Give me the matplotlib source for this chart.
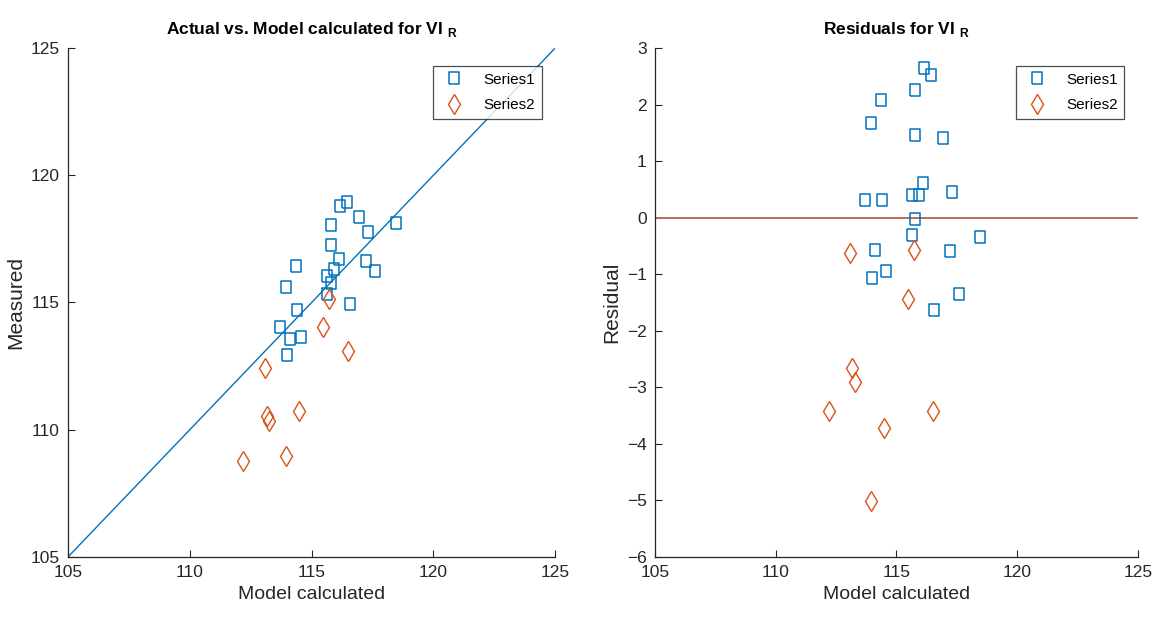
#!/usr/bin/env python3
"""Actual vs. model calculated VI_R, with residual panel."""
import matplotlib
matplotlib.use("Agg")
import matplotlib.pyplot as plt
import numpy as np

plt.rcParams["font.family"] = ["Liberation Sans Narrow", "Liberation Sans", "DejaVu Sans"]
plt.rcParams["mathtext.fontset"] = "custom"
plt.rcParams["mathtext.bf"] = "Liberation Sans:bold"
plt.rcParams["mathtext.rm"] = "Liberation Sans"

# Series1: model calculated vs measured
s1_model = [116.15, 116.44, 115.78, 114.35, 113.93, 115.78, 116.94, 116.11, 117.31, 113.71, 114.40,
            115.64, 115.93, 115.78, 115.65, 118.47, 114.12, 117.22, 114.58, 113.99, 117.59, 116.57]
s1_meas = [118.80, 118.96, 118.04, 116.43, 115.61, 117.25, 118.34, 116.72, 117.76, 114.03, 114.72,
           116.04, 116.33, 115.76, 115.34, 118.13, 113.55, 116.63, 113.64, 112.92, 116.24, 114.93]
# Series2
s2_model = [113.07, 115.71, 115.48, 113.17, 113.27, 112.20, 116.50, 114.47, 113.96]
s2_meas = [112.44, 115.13, 114.04, 110.52, 110.36, 108.78, 113.08, 110.75, 108.95]

x_lim = [105, 125]
x_ticks = [105, 110, 115, 120, 125]
res_ticks = [-6, -5, -4, -3, -2, -1, 0, 1, 2, 3]

BLUE = "#0072BD"
ORANGE = "#D95319"
ZERO = "#B0705F"
AX = "#262626"

SQ = [(-0.4, -0.5), (0.4, -0.5), (0.4, 0.5), (-0.4, 0.5), (-0.4, -0.5)]


def style(ax):
    for side in ("top", "right"):
        ax.spines[side].set_visible(False)
    for side in ("left", "bottom"):
        ax.spines[side].set_color(AX)
        ax.spines[side].set_linewidth(0.9)
    ax.tick_params(direction="in", length=5, width=0.8, colors=AX, labelsize=12.5, pad=6)


def scatter(ax, x1, y1, x2, y2):
    ax.plot(x1, y1, linestyle="none", marker=SQ, markersize=9, markerfacecolor="none",
            markeredgecolor=BLUE, markeredgewidth=1.1, label="Series1")
    ax.plot(x2, y2, linestyle="none", marker="d", markersize=10, markerfacecolor="none",
            markeredgecolor=ORANGE, markeredgewidth=1.0, label="Series2")
    leg = ax.legend(loc="upper right", bbox_to_anchor=(0.972, 0.965), fontsize=11, frameon=True,
                    fancybox=False, edgecolor="#222222", borderpad=0.45, handletextpad=1.0,
                    borderaxespad=0.0, labelspacing=0.75, handlelength=1.8)
    leg.get_frame().set_linewidth(0.9)


fig = plt.figure(figsize=(11.52, 6.19), dpi=100)
ax1 = fig.add_axes([0.059, 0.1002, 0.423, 0.8223])
ax2 = fig.add_axes([0.5686, 0.1002, 0.4192, 0.8223])

# left: actual vs model
ax1.plot(x_lim, x_lim, color=BLUE, linewidth=1.0)
scatter(ax1, s1_model, s1_meas, s2_model, s2_meas)
ax1.set_xlim(x_lim)
ax1.set_ylim(x_lim)
ax1.set_xticks(x_ticks)
ax1.set_yticks(x_ticks)
ax1.set_xlabel("Model calculated", fontsize=14, color=AX, labelpad=4)
ax1.set_ylabel("Measured", fontsize=15, color=AX, labelpad=4)
ax1.set_title(r"Actual vs. Model calculated for VI $_{\mathbf{R}}$", fontsize=12.5,
              fontweight="bold", pad=10)
style(ax1)

# right: residuals
r1 = np.array(s1_meas) - np.array(s1_model)
r2 = np.array(s2_meas) - np.array(s2_model)
ax2.plot(x_lim, [0, 0], color=ZERO, linewidth=1.4)
scatter(ax2, s1_model, r1, s2_model, r2)
ax2.set_xlim(x_lim)
ax2.set_ylim(-6, 3)
ax2.set_xticks(x_ticks)
ax2.set_yticks(res_ticks)
ax2.set_xlabel("Model calculated", fontsize=14, color=AX, labelpad=4)
ax2.set_ylabel("Residual", fontsize=15, color=AX, labelpad=4)
ax2.set_title(r"Residuals for VI $_{\mathbf{R}}$", fontsize=12.5, fontweight="bold", pad=10)
style(ax2)

fig.savefig("out.png", dpi=100)
